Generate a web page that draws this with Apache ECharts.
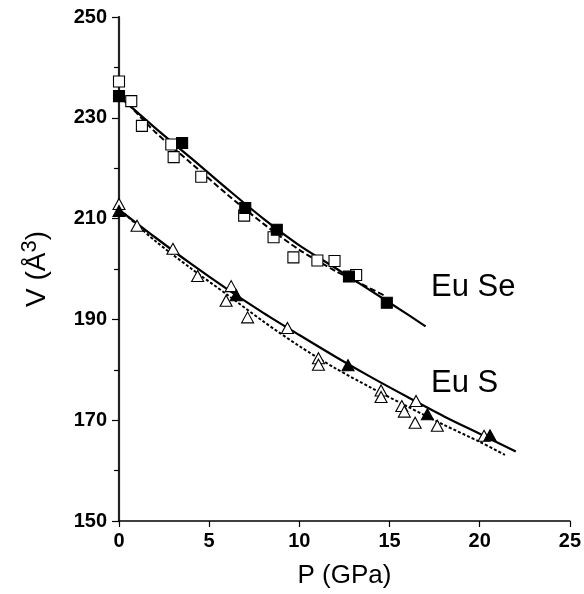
<!DOCTYPE html>
<html>
<head>
<meta charset="utf-8">
<script src="https://cdn.jsdelivr.net/npm/echarts@6/dist/echarts.min.js"></script>
<style>
  html, body { margin: 0; padding: 0; background: #fff; }
  #chart { width: 584px; height: 594px; }
</style>
</head>
<body>
<div id="chart"></div>
<script>
// measured points, P in GPa, V in A^3
const euseOpen = [[0, 237.2], [0.68, 233.3], [1.27, 228.4], [2.9, 224.7], [3.03, 222.2], [4.56, 218.3],
  [6.94, 210.6], [8.57, 206.3], [9.67, 202.3], [11.0, 201.7], [11.95, 201.6], [13.15, 198.8]];
const euseFilled = [[0, 234.3], [3.5, 225.0], [7.0, 212.1], [8.75, 207.8], [12.75, 198.5], [14.85, 193.3]];
const eusOpen = [[0, 212.9], [1.0, 208.6], [2.99, 204.0], [4.36, 198.6], [5.94, 193.7], [6.22, 196.6],
  [7.13, 190.4], [9.34, 188.3], [11.06, 182.3], [11.06, 181.0], [14.53, 175.9], [14.53, 174.6],
  [15.68, 172.8], [15.82, 171.7], [16.47, 173.8], [16.42, 169.5], [17.65, 168.9], [20.24, 166.9]];
const eusFilled = [[0, 211.5], [6.5, 194.8], [12.7, 180.9], [17.1, 171.2], [20.57, 167.0]];

// fitted curves
const euseFitP = [0, 2, 4, 6, 8, 10, 12, 14, 16, 17];
const euseFitV = [234.3, 228.0, 222.0, 215.9, 210.0, 204.7, 200.2, 195.6, 191.0, 188.6];
const euseDashP = [0.5, 2, 4, 6, 8, 10, 12, 13, 14.8];
const euseDashV = [232.8, 227.2, 221.0, 214.8, 209.0, 203.8, 199.6, 197.8, 194.6];
const eusFitP = [0, 2, 4, 6, 8, 10, 12, 14, 16, 18, 20, 22];
const eusFitV = [211.8, 206.3, 201.0, 196.0, 191.3, 186.9, 182.6, 178.5, 174.6, 170.8, 167.3, 163.8];
const eusDotP = [0.3, 2, 4, 6, 8, 10, 12, 14, 16, 18, 20, 21.4];
const eusDotV = [211.0, 205.6, 200.1, 194.9, 189.6, 184.7, 180.3, 176.4, 172.7, 169.1, 165.7, 163.1];

const labels = ["Eu Se", "Eu S"];
const labelAt = [[17.3, 196.3], [17.3, 177.3]];

const xTicks = [0, 5, 10, 15, 20, 25];
const yTicks = [150, 170, 190, 210, 230, 250];

const pair = (ps, vs) => ps.map((p, i) => [p, vs[i]]);
const font = "'Liberation Sans', Arial, sans-serif";

const chart = echarts.init(document.getElementById("chart"));

const lineSeries = (data, type, z) => ({
  type: "line",
  data: data,
  symbol: "none",
  smooth: 0.3,
  z: z,
  lineStyle: { color: "#000", opacity: 1, width: type === "solid" ? 2.2 : 2,
    type: type === "solid" ? "solid" : type === "dashed" ? [6, 3] : [3, 2] },
  silent: true,
});

const scatter = (data, symbol, filled, z) => ({
  type: "scatter",
  data: data,
  symbol: symbol,
  symbolSize: symbol === "rect" ? 11 : [12, 11],
  z: z,
  itemStyle: {
    color: filled ? "#000" : "#fff",
    borderColor: "#000",
    borderWidth: 1.1,
    opacity: 1,
  },
});

const option = {
  animation: false,
  grid: { left: 119, right: 14, top: 17, bottom: 67, containLabel: false },
  xAxis: {
    type: "value",
    min: 0,
    max: 25,
    interval: 5,
    name: "P (GPa)",
    nameLocation: "middle",
    nameGap: 42,
    nameTextStyle: { fontFamily: font, fontSize: 26, color: "#000" },
    axisLine: { show: true, onZero: false, lineStyle: { color: "#000", width: 1.5 } },
    axisTick: { show: true, inside: false, length: 6, lineStyle: { color: "#000", width: 1.2 } },
    axisLabel: { fontFamily: font, fontSize: 20, fontWeight: "bold", color: "#000", margin: 10,
      formatter: (v) => (xTicks.includes(v) ? String(v) : "") },
    splitLine: { show: false },
  },
  yAxis: [{
    type: "value",
    min: 150,
    max: 250,
    interval: 20,
    name: "V (Å{sup|3})",
    nameLocation: "middle",
    nameGap: 64,
    nameTextStyle: { fontFamily: font, fontSize: 28, color: "#000", lineHeight: 36,
      rich: { sup: { fontFamily: font, fontSize: 22, color: "#000", lineHeight: 36, verticalAlign: "top", padding: [0, 0, 18, 0] } } },
    axisLine: { show: true, onZero: false, lineStyle: { color: "#000", width: 1.5 } },
    axisTick: { show: true, length: 7, lineStyle: { color: "#000", width: 1.2 } },
    minorTick: { show: true, splitNumber: 2, length: 5, lineStyle: { color: "#000", width: 1.2 } },
    axisLabel: { fontFamily: font, fontSize: 20, fontWeight: "bold", color: "#000", margin: 12,
      formatter: (v) => (yTicks.includes(v) ? String(v) : "") },
    splitLine: { show: false },
  }, {
    type: "value",
    position: "right",
    min: 150,
    max: 250,
    interval: 20,
    axisLine: { show: true, lineStyle: { color: "#222", width: 2.2 } },
    axisTick: { show: false },
    axisLabel: { show: false },
    splitLine: { show: false },
  }],
  series: [
    lineSeries(pair(euseFitP, euseFitV), "solid", 2),
    lineSeries(pair(euseDashP, euseDashV), "dashed", 2),
    lineSeries(pair(eusFitP, eusFitV), "solid", 2),
    lineSeries(pair(eusDotP, eusDotV), "dotted", 2),
    scatter(euseOpen, "rect", false, 3),
    scatter(eusOpen, "triangle", false, 3),
    scatter(euseFilled, "rect", true, 4),
    scatter(eusFilled, "triangle", true, 4),
    {
      type: "scatter",
      data: labelAt.map((p, i) => ({ value: p, name: labels[i] })),
      symbolSize: 0,
      silent: true,
      itemStyle: { opacity: 1 },
      label: {
        show: true,
        position: "right",
        distance: 0,
        formatter: (p) => p.name,
        fontFamily: font,
        fontSize: 31,
        color: "#000",
        opacity: 1,
      },
    },
  ],
};

chart.setOption(option);
</script>
</body>
</html>
